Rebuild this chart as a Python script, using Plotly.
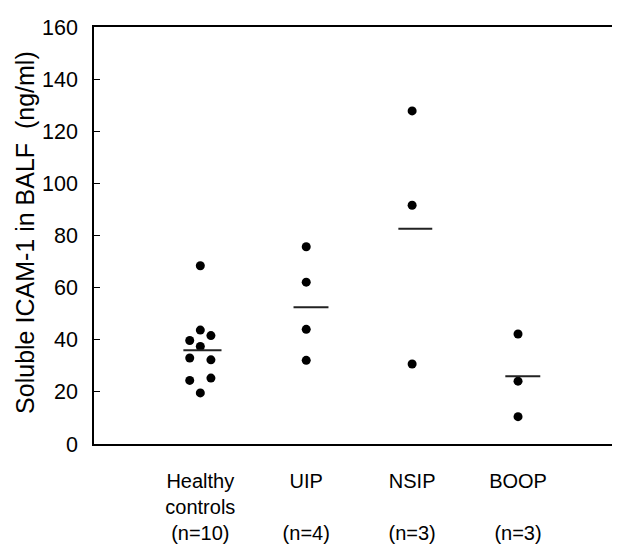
import plotly.graph_objects as go

# ---- data ----
categories = ["Healthy<br>controls<br>(n=10)", "UIP<br> <br>(n=4)", "NSIP<br> <br>(n=3)", "BOOP<br> <br>(n=3)"]
healthy = [68.4, 43.7, 41.6, 39.7, 37.4, 33.0, 32.3, 25.3, 24.4, 19.6]
uip = [75.7, 62.1, 44.0, 32.1]
nsip = [127.8, 91.6, 30.7]
boop = [42.2, 24.1, 10.5]
group_means = [36.0, 52.5, 82.6, 26.0]
y_ticks = [0, 20, 40, 60, 80, 100, 120, 140, 160]

# horizontal scatter of the healthy-control dots (category units)
healthy_jitter = [0, 0, 0.1, -0.1, 0, -0.1, 0.1, 0.1, -0.1, 0]

groups = [healthy, uip, nsip, boop]

fig = go.Figure()

for i, vals in enumerate(groups):
    if i == 0:
        xs = [i + j for j in healthy_jitter]
    else:
        xs = [i] * len(vals)
    fig.add_trace(go.Scatter(
        x=xs, y=vals, mode="markers",
        marker=dict(color="black", size=9),
        showlegend=False, hoverinfo="y"))

mean_left = [-0.16, -0.12, -0.13, -0.12]
mean_right = [0.20, 0.21, 0.19, 0.21]
for i, m in enumerate(group_means):
    fig.add_trace(go.Scatter(
        x=[i + mean_left[i], i + mean_right[i]], y=[m, m], mode="lines",
        line=dict(color="#222222", width=2),
        showlegend=False, hoverinfo="skip"))

font_family = "Liberation Sans, Arial, Helvetica, sans-serif"

# the page body has an 8px default margin, so the figure is 8px smaller
fig.update_layout(
    width=612, height=538,
    margin=dict(l=86, r=2, t=19, b=97),
    paper_bgcolor="white", plot_bgcolor="white",
    font=dict(family=font_family, color="black", size=20),
    xaxis=dict(
        range=[-1.004, 3.944],
        tickmode="array", tickvals=[0, 1, 2, 3], ticktext=categories,
        showline=True, linecolor="black", linewidth=1.5, mirror=True,
        showgrid=False, zeroline=False, ticks="",
        ticklabelstandoff=18,
        tickfont=dict(size=20),
    ),
    yaxis=dict(
        range=[0, 160],
        tickmode="array", tickvals=y_ticks,
        showline=True, linecolor="black", linewidth=1.5,
        showgrid=False, zeroline=False,
        ticks="inside", ticklen=6, tickwidth=1, tickcolor="black",
        ticklabelstandoff=10,
        tickfont=dict(size=21.5),
    ),
    annotations=[dict(
        text="Soluble ICAM-1 in BALF  (ng/ml)",
        xref="paper", yref="paper", x=-0.133, y=0.507,
        textangle=-90, showarrow=False,
        font=dict(size=25, family=font_family, color="black"),
        xanchor="center", yanchor="middle")],
)

fig.write_html("out.html")
